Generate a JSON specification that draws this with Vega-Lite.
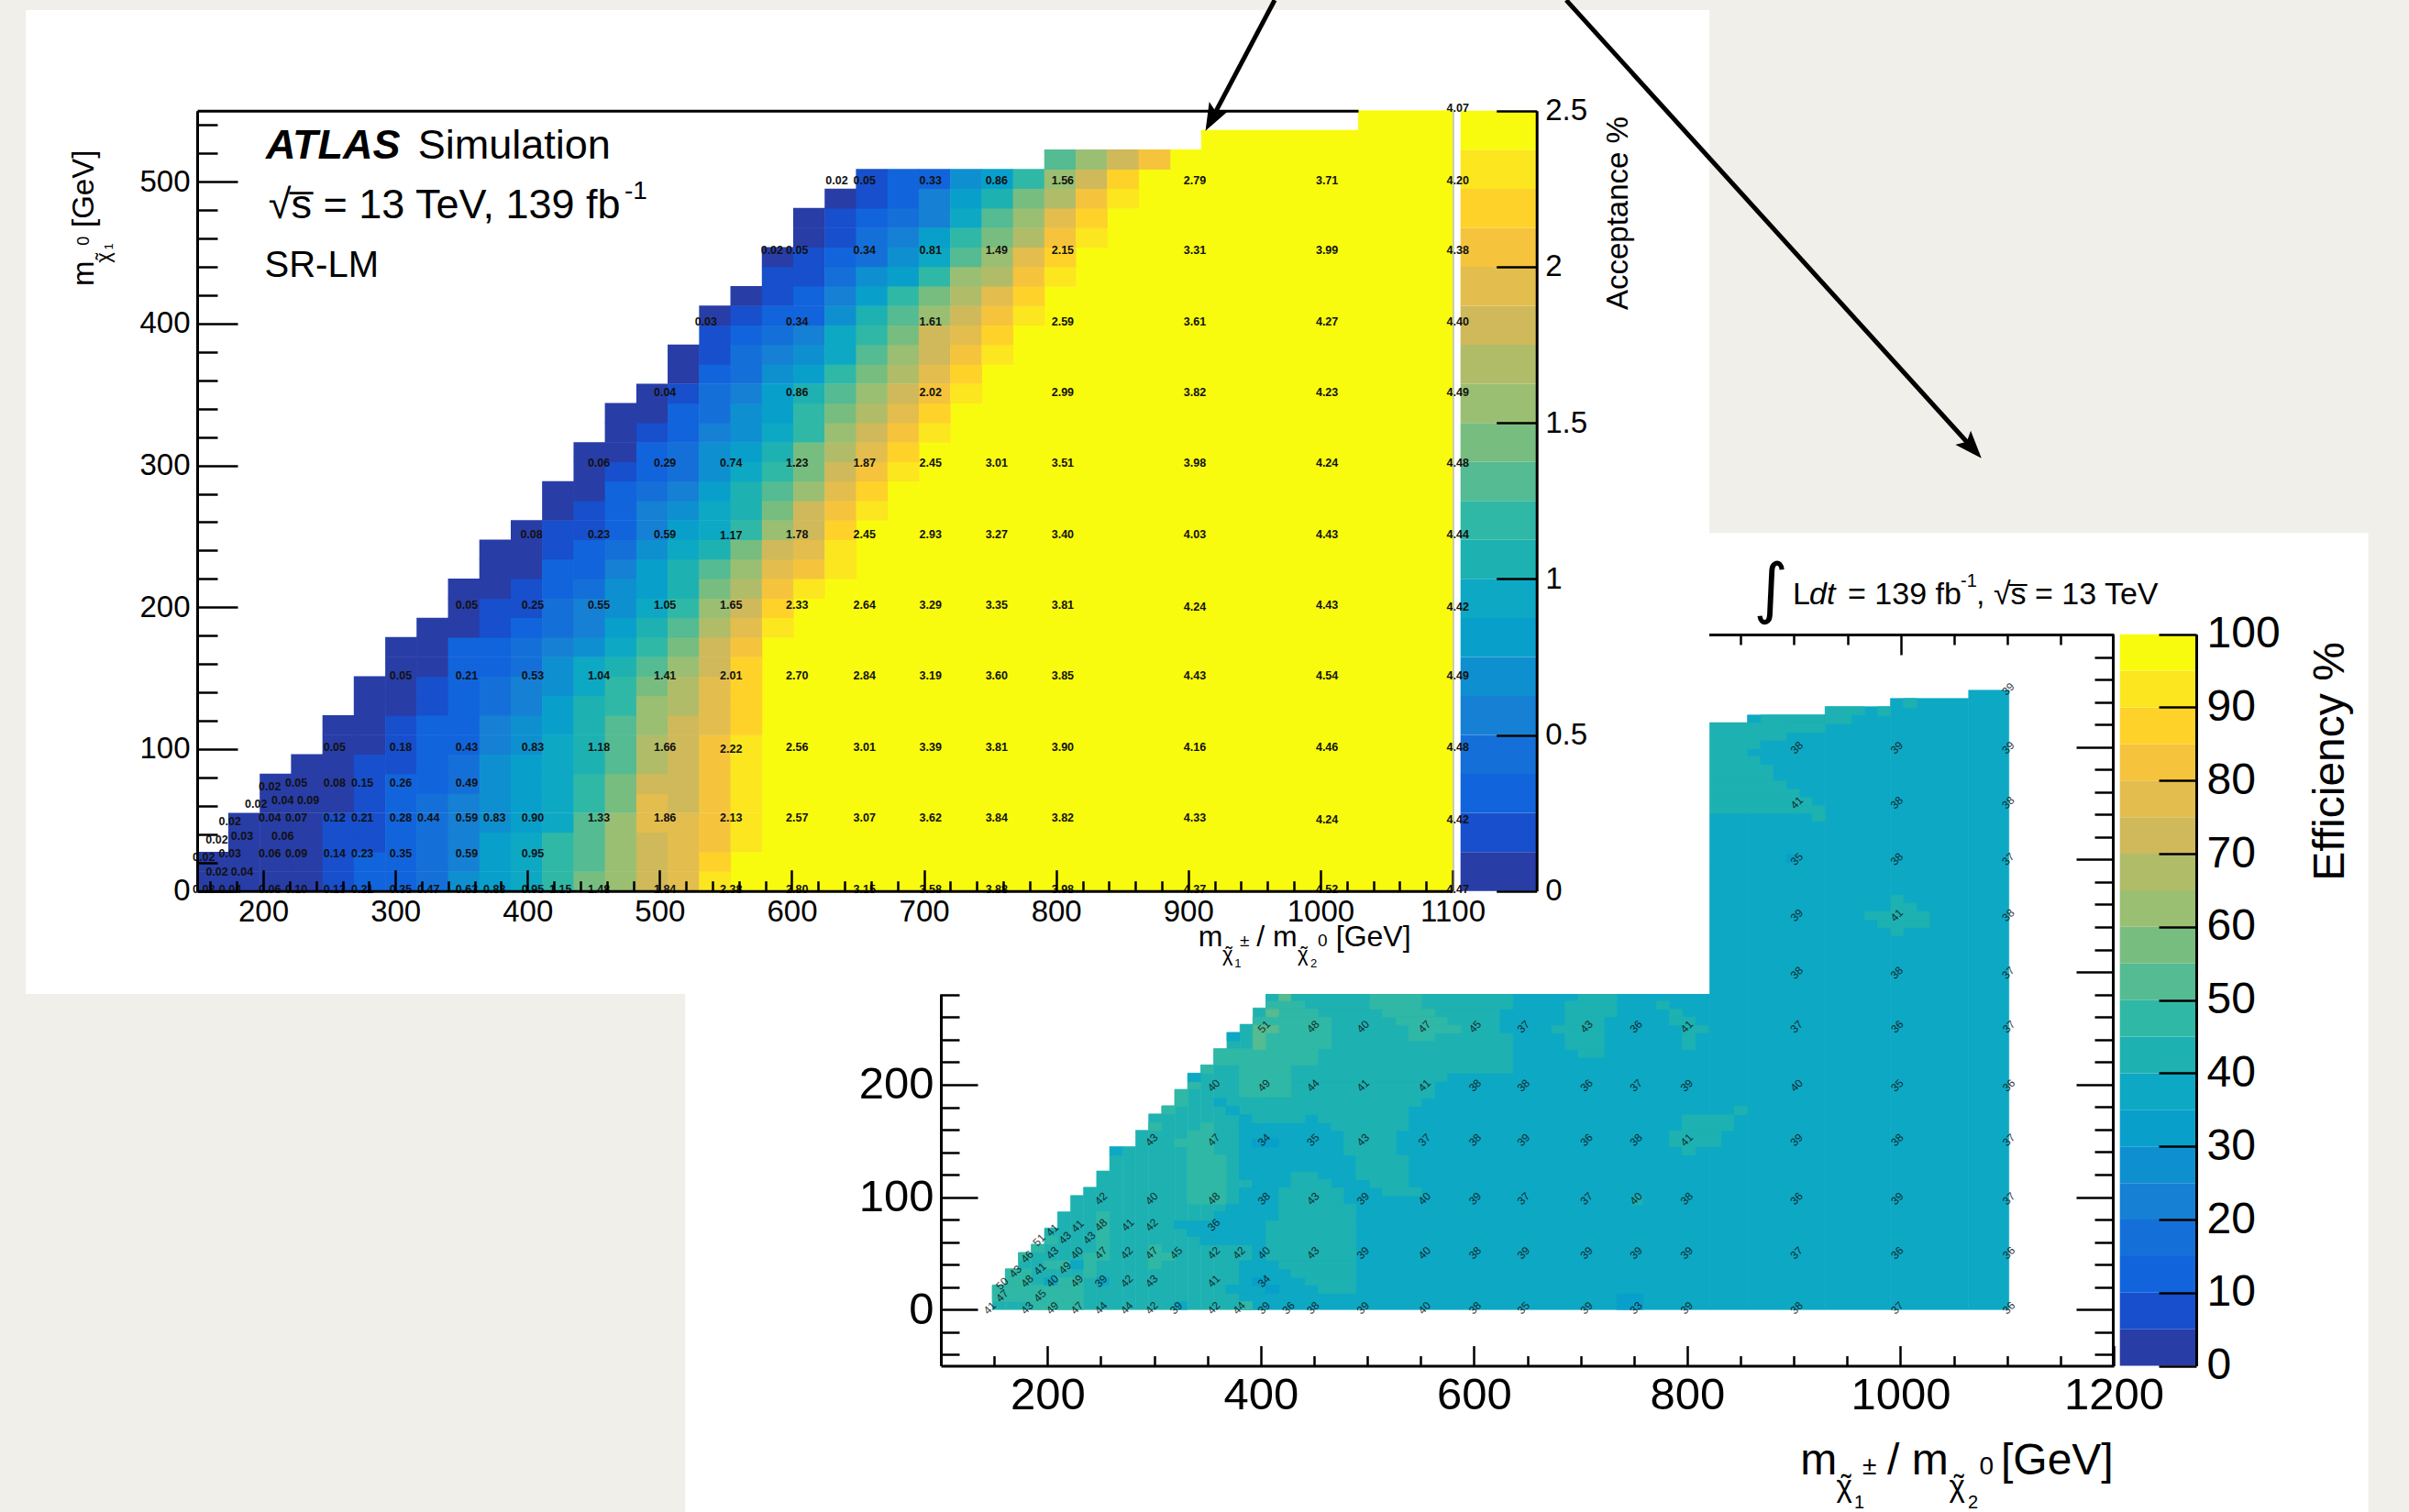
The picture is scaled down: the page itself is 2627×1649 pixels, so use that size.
{"$schema":"https://vega.github.io/schema/vega-lite/v6.json","width":2627,"height":1649,"autosize":{"type":"none"},"padding":0,"background":"#f0efe9",
"config":{"view":{"stroke":null},"text":{"font":"Liberation Sans","color":"#000"},"axis":{"grid":false,"domainColor":"#000","tickColor":"#000","labelColor":"#000","labelFont":"Liberation Sans","labelOverlap":false,"labelFlush":false,"tickWidth":2.5,"domainWidth":3,"title":null}},
"resolve":{"scale":{"x":"independent","y":"independent","color":"independent"},"axis":{"x":"independent","y":"independent"}},
"layer":[
{"encoding":{"x":{"field":"x","type":"quantitative","axis":null,"scale":{"domain":[100,1200],"range":[1026,2305],"nice":false,"zero":false}},"y":{"field":"y","type":"quantitative","axis":null,"scale":{"domain":[-50,600],"range":[1489.6,692],"nice":false,"zero":false}}},
"layer":[
{"data":{"values":[{"x":-139.8,"x2":1438.8,"y":-180,"y2":690.3}]},"mark":{"type":"rect","color":"#fff"},"encoding":{"x2":{"field":"x2"},"y2":{"field":"y2"}}},
{"data":{"values":[
{"x":148.3,"x2":160.5,"y":0,"y2":21.7,"v":42},{"x":160.5,"x2":172.7,"y":0,"y2":36.2,"v":42},{"x":172.7,"x2":184.9,"y":0,"y2":50.7,"v":42},{"x":184.9,"x2":197.2,"y":0,"y2":58,"v":42},{"x":197.2,"x2":209.4,"y":0,"y2":72.5,"v":42},{"x":209.4,"x2":221.6,"y":0,"y2":86.9,"v":42},{"x":221.6,"x2":233.8,"y":0,"y2":101.4,"v":42},{"x":233.8,"x2":246.1,"y":0,"y2":108.7,"v":42},{"x":246.1,"x2":258.3,"y":0,"y2":123.2,"v":42},{"x":258.3,"x2":270.5,"y":0,"y2":137.7,"v":42},{"x":270.5,"x2":282.7,"y":0,"y2":144.9,"v":42},{"x":282.7,"x2":294.9,"y":0,"y2":159.4,"v":42},{"x":294.9,"x2":307.2,"y":0,"y2":173.9,"v":42},{"x":307.2,"x2":319.4,"y":0,"y2":181.1,"v":42},{"x":319.4,"x2":331.6,"y":0,"y2":195.6,"v":42},{"x":331.6,"x2":343.8,"y":0,"y2":210.1,"v":42},{"x":343.8,"x2":356,"y":0,"y2":217.4,"v":42},{"x":356,"x2":368.3,"y":0,"y2":231.8,"v":42},{"x":368.3,"x2":380.5,"y":0,"y2":246.3,"v":42},{"x":380.5,"x2":392.7,"y":0,"y2":253.6,"v":42},{"x":392.7,"x2":404.9,"y":0,"y2":268.1,"v":42},
{"x":404.9,"x2":820.8,"y":0,"y2":400,"v":38},{"x":820.8,"x2":856.4,"y":0,"y2":521.5,"v":38},{"x":856.4,"x2":929.4,"y":0,"y2":528.5,"v":38},{"x":929.4,"x2":990.5,"y":0,"y2":535.9,"v":38},{"x":990.5,"x2":1063.9,"y":0,"y2":543.2,"v":38},{"x":1063.9,"x2":1101.7,"y":0,"y2":550.5,"v":38},
{"x":380,"x2":404.9,"y":0,"y2":14.4,"v":38},{"x":367.5,"x2":404.9,"y":14.4,"y2":21.7,"v":38},{"x":380,"x2":404.9,"y":21.7,"y2":43.5,"v":38},{"x":392.2,"x2":404.9,"y":43.5,"y2":57.6,"v":38},{"x":343.2,"x2":404.9,"y":57.6,"y2":65.2,"v":38},{"x":331,"x2":404.9,"y":65.2,"y2":72,"v":38},{"x":318.8,"x2":404.9,"y":72,"y2":78.8,"v":38},{"x":356,"x2":404.9,"y":78.8,"y2":87,"v":38},{"x":367.5,"x2":404.9,"y":87,"y2":93.8,"v":38},{"x":380,"x2":404.9,"y":93.8,"y2":108.2,"v":38},{"x":392.2,"x2":404.9,"y":108.2,"y2":115.5,"v":38},{"x":380,"x2":404.9,"y":115.5,"y2":166,"v":38},{"x":380,"x2":392.2,"y":166,"y2":173.1,"v":38},{"x":367.5,"x2":380,"y":173.1,"y2":180.7,"v":38},{"x":356,"x2":367.5,"y":180.7,"y2":187.8,"v":38},
{"x":453.7,"x2":489.3,"y":14.4,"y2":21.7,"v":42},{"x":441.5,"x2":489.3,"y":21.7,"y2":28.5,"v":42},{"x":428.4,"x2":489.3,"y":28.5,"y2":36.1,"v":42},{"x":416.9,"x2":489.3,"y":36.1,"y2":43.5,"v":42},{"x":404.9,"x2":489.3,"y":43.5,"y2":78.8,"v":42},{"x":416.9,"x2":489.3,"y":78.8,"y2":93.8,"v":42},{"x":416.9,"x2":477.8,"y":93.8,"y2":108.2,"v":42},{"x":428.4,"x2":466.2,"y":108.2,"y2":115.5,"v":42},{"x":428.4,"x2":453.7,"y":115.5,"y2":122.3,"v":42},{"x":514,"x2":550.8,"y":101.1,"y2":108.2,"v":42},{"x":502.4,"x2":538.6,"y":108.2,"y2":115.5,"v":42},{"x":489.3,"x2":538.6,"y":115.5,"y2":137.2,"v":42},{"x":477.8,"x2":527.1,"y":137.2,"y2":159,"v":42},{"x":466.2,"x2":538.6,"y":159,"y2":166,"v":42},{"x":453.7,"x2":538.6,"y":166,"y2":173.1,"v":42},{"x":392.2,"x2":441.5,"y":166,"y2":173.1,"v":42},{"x":392.2,"x2":538.6,"y":173.1,"y2":180.7,"v":42},{"x":380,"x2":550.8,"y":180.7,"y2":187.8,"v":42},{"x":380,"x2":563.3,"y":187.8,"y2":202.5,"v":42},{"x":404.9,"x2":574.8,"y":202.5,"y2":210.1,"v":42},{"x":404.9,"x2":636.6,"y":210.1,"y2":245.4,"v":42},{"x":404.9,"x2":624,"y":245.4,"y2":267.1,"v":42},{"x":404.9,"x2":636.6,"y":267.1,"y2":281,"v":42},
{"x":697.5,"x2":734,"y":274.2,"y2":281,"v":42},{"x":685.3,"x2":734,"y":260.1,"y2":274.2,"v":42},{"x":685.3,"x2":722.1,"y":252.7,"y2":260.1,"v":42},{"x":672.8,"x2":722.1,"y":245.9,"y2":252.7,"v":42},{"x":685.3,"x2":722.1,"y":231,"y2":245.9,"v":42},{"x":697.5,"x2":722.1,"y":224.2,"y2":231,"v":42},{"x":770.9,"x2":783,"y":267.1,"y2":274.2,"v":42},{"x":783,"x2":795.2,"y":260.1,"y2":267.1,"v":42},{"x":783,"x2":807.7,"y":252.7,"y2":260.1,"v":42},{"x":795.2,"x2":819.9,"y":245.9,"y2":252.7,"v":42},{"x":795.2,"x2":807.7,"y":231,"y2":245.9,"v":42},{"x":843.9,"x2":856.4,"y":173.1,"y2":180.7,"v":42},{"x":795.2,"x2":843.9,"y":159,"y2":173.1,"v":42},{"x":783,"x2":831.7,"y":144.6,"y2":159,"v":42},{"x":795.2,"x2":807.7,"y":137.2,"y2":144.6,"v":42},{"x":748.5,"x2":758.4,"y":93,"y2":101,"v":42},
{"x":820.8,"x2":893,"y":506,"y2":521.5,"v":42},{"x":869,"x2":929.4,"y":521.5,"y2":528.5,"v":42},{"x":893,"x2":929.4,"y":513,"y2":521.5,"v":42},{"x":929.4,"x2":966.4,"y":528.5,"y2":535.9,"v":42},{"x":929.4,"x2":954.1,"y":520.4,"y2":528.5,"v":42},{"x":978.5,"x2":990.5,"y":527.4,"y2":535.9,"v":42},{"x":1002.8,"x2":1015.1,"y":534.8,"y2":543.2,"v":42},{"x":820.8,"x2":868.4,"y":498.6,"y2":506,"v":42},{"x":820.8,"x2":856.4,"y":491.6,"y2":498.6,"v":42},{"x":820.8,"x2":868.4,"y":484,"y2":491.6,"v":42},{"x":820.8,"x2":880.4,"y":469.8,"y2":484,"v":42},{"x":820.8,"x2":893,"y":462.5,"y2":469.8,"v":42},{"x":820.8,"x2":905.1,"y":455.1,"y2":462.5,"v":42},{"x":820.8,"x2":917.1,"y":447.8,"y2":455.1,"v":42},{"x":820.8,"x2":929.4,"y":441,"y2":447.8,"v":42},{"x":917.1,"x2":929.4,"y":434,"y2":441,"v":42},{"x":990.8,"x2":1002.8,"y":361.1,"y2":368.2,"v":42},{"x":990.8,"x2":1015.1,"y":353.8,"y2":361.1,"v":42},{"x":966.4,"x2":1027.2,"y":346.4,"y2":353.8,"v":42},{"x":978.5,"x2":1027.2,"y":339.4,"y2":346.4,"v":42},{"x":990.8,"x2":1002.8,"y":332.3,"y2":339.4,"v":42},
{"x":184.9,"x2":233.6,"y":0,"y2":7.1,"v":47},{"x":148.3,"x2":233.6,"y":7.1,"y2":21.7,"v":47},{"x":160.5,"x2":184.9,"y":21.7,"y2":28.5,"v":47},{"x":209.2,"x2":233.6,"y":21.7,"y2":28.5,"v":47},{"x":160.5,"x2":184.9,"y":28.5,"y2":36.1,"v":47},{"x":197,"x2":221.4,"y":36.1,"y2":43.5,"v":47},{"x":233.6,"x2":245.7,"y":28.5,"y2":50.3,"v":47},{"x":245.7,"x2":257.9,"y":43.5,"y2":87,"v":47},{"x":294.4,"x2":306.6,"y":36.1,"y2":57.6,"v":47},{"x":306.6,"x2":318.8,"y":43.5,"y2":50.3,"v":47},{"x":172.7,"x2":184.9,"y":43.5,"y2":50.7,"v":47},{"x":184.9,"x2":197,"y":51,"y2":58,"v":47},{"x":197.2,"x2":209.2,"y":58,"y2":65,"v":47},{"x":331,"x2":367.5,"y":93.8,"y2":137.2,"v":47},{"x":331,"x2":356,"y":137.2,"y2":159,"v":47},{"x":318.8,"x2":331,"y":144.6,"y2":151.6,"v":47},{"x":343.2,"x2":356,"y":159,"y2":166,"v":47},{"x":319.4,"x2":331.6,"y":180.7,"y2":195.6,"v":47},{"x":331.6,"x2":343.2,"y":196.2,"y2":202.5,"v":47},{"x":343.8,"x2":356,"y":210,"y2":217.4,"v":47},{"x":307.2,"x2":319.4,"y":173.9,"y2":181.1,"v":47},{"x":294.9,"x2":307.2,"y":159,"y2":166,"v":47},{"x":380,"x2":428.4,"y":188.9,"y2":217.4,"v":47},{"x":356,"x2":453.7,"y":217.4,"y2":231.8,"v":47},{"x":392.7,"x2":466.2,"y":231.8,"y2":260,"v":47},{"x":416.9,"x2":453.7,"y":260,"y2":267,"v":47},{"x":404.9,"x2":441.5,"y":267,"y2":274.2,"v":47},{"x":502.4,"x2":550.8,"y":267,"y2":281,"v":47},{"x":514,"x2":563.3,"y":260,"y2":267,"v":47},{"x":527.1,"x2":574.8,"y":252.7,"y2":260,"v":47},{"x":538.6,"x2":588,"y":245.9,"y2":252.7,"v":47},{"x":538.6,"x2":563.3,"y":238.9,"y2":245.9,"v":47},{"x":380,"x2":392.2,"y":0,"y2":7.1,"v":47},
{"x":392.7,"x2":404.7,"y":231,"y2":252.7,"v":52},{"x":404.7,"x2":416.9,"y":260,"y2":267,"v":52},{"x":404.7,"x2":416.9,"y":245.9,"y2":252.7,"v":52},{"x":416.9,"x2":428.4,"y":274.2,"y2":281,"v":52},
{"x":368.3,"x2":380.5,"y":238.9,"y2":246.3,"v":38},{"x":331.6,"x2":343.8,"y":202.5,"y2":210.1,"v":38},{"x":258.3,"x2":270.5,"y":137.2,"y2":144.9,"v":38},{"x":318.8,"x2":331,"y":0,"y2":7.1,"v":38},{"x":245.7,"x2":257.9,"y":21.7,"y2":28.5,"v":38},{"x":197,"x2":209.2,"y":21.7,"y2":28.5,"v":38},{"x":221.4,"x2":233.6,"y":36.1,"y2":43.5,"v":38},
{"x":392.2,"x2":416.9,"y":144.6,"y2":151.6,"v":33},{"x":404.7,"x2":416.9,"y":14.4,"y2":21.7,"v":33},{"x":392.2,"x2":404.7,"y":21.7,"y2":28.5,"v":33},{"x":734,"x2":758.4,"y":0,"y2":13.9,"v":33},{"x":893,"x2":900.5,"y":397.3,"y2":404.3,"v":33}
]},"mark":{"type":"rect","strokeWidth":0.6},"encoding":{"x2":{"field":"x2"},"y2":{"field":"y2"},"stroke":{"field":"v","type":"quantitative","legend":null,"scale":{"type":"quantize","nice":false,"zero":false,"domain":[0,100],"range":["#283da6","#174fcc","#1164dc","#1470d8","#1580d4","#0e90d0","#08a0cb","#0da8c4","#1eb1b2","#30b8a6","#54bb92","#78bd80","#9abf72","#b1bc68","#cfb95a","#e3bd4d","#f5c43c","#ffd22a","#fbe61f","#f9fb0e"]}},"color":{"field":"v","type":"quantitative","legend":null,"scale":{"type":"quantize","nice":false,"zero":false,"domain":[0,100],"range":["#283da6","#174fcc","#1164dc","#1470d8","#1580d4","#0e90d0","#08a0cb","#0da8c4","#1eb1b2","#30b8a6","#54bb92","#78bd80","#9abf72","#b1bc68","#cfb95a","#e3bd4d","#f5c43c","#ffd22a","#fbe61f","#f9fb0e"]}}}},
{"data":{"values":[
{"x":146,"y":1.4,"t":"41"},{"x":180.9,"y":1.4,"t":"43"},{"x":204.6,"y":1.4,"t":"49"},{"x":227.6,"y":1.4,"t":"47"},{"x":250.3,"y":1.4,"t":"44"},{"x":274.4,"y":1.4,"t":"44"},{"x":297.7,"y":1.4,"t":"42"},{"x":320.8,"y":1.4,"t":"39"},{"x":356,"y":1.4,"t":"42"},{"x":379.7,"y":1.4,"t":"44"},{"x":403,"y":1.4,"t":"39"},{"x":426.1,"y":1.4,"t":"36"},{"x":449.1,"y":1.4,"t":"38"},{"x":495.9,"y":1.4,"t":"39"},{"x":553.5,"y":1.4,"t":"40"},{"x":601,"y":1.4,"t":"38"},{"x":646.5,"y":1.4,"t":"35"},{"x":705.7,"y":1.4,"t":"39"},{"x":752,"y":1.4,"t":"33"},{"x":799.5,"y":1.4,"t":"39"},{"x":902.5,"y":1.4,"t":"38"},{"x":997,"y":1.4,"t":"37"},{"x":1101.6,"y":1.4,"t":"36"},
{"x":157.5,"y":12.2,"t":"47"},{"x":193,"y":12.2,"t":"45"},
{"x":157.5,"y":23.1,"t":"50"},{"x":180.9,"y":25.3,"t":"48"},{"x":204.6,"y":25.3,"t":"40"},{"x":227.6,"y":25.3,"t":"49"},{"x":250.3,"y":25.3,"t":"39"},{"x":274.4,"y":25.3,"t":"42"},{"x":297.7,"y":25.3,"t":"43"},{"x":356,"y":25.3,"t":"41"},{"x":403,"y":25.3,"t":"34"},
{"x":170,"y":33.9,"t":"43"},{"x":193,"y":36.1,"t":"41"},{"x":216.5,"y":37.2,"t":"49"},
{"x":180.9,"y":47,"t":"46"},{"x":204.6,"y":50.3,"t":"43"},{"x":227.6,"y":50.3,"t":"40"},{"x":250.3,"y":50.3,"t":"47"},{"x":274.4,"y":50.3,"t":"42"},{"x":297.7,"y":50.3,"t":"47"},{"x":320.8,"y":50.3,"t":"45"},{"x":356,"y":50.3,"t":"42"},{"x":379.7,"y":50.3,"t":"42"},{"x":403,"y":50.3,"t":"40"},{"x":449.1,"y":50.3,"t":"43"},{"x":495.9,"y":50.3,"t":"39"},{"x":553.5,"y":50.3,"t":"40"},{"x":601,"y":50.3,"t":"38"},{"x":646.5,"y":50.3,"t":"39"},{"x":705.7,"y":50.3,"t":"39"},{"x":752,"y":50.3,"t":"39"},{"x":799.5,"y":50.3,"t":"39"},{"x":902.5,"y":50.3,"t":"37"},{"x":997,"y":50.3,"t":"36"},{"x":1101.6,"y":50.3,"t":"36"},
{"x":192.1,"y":61.7,"t":"51"},{"x":216.5,"y":63.9,"t":"43"},{"x":239.2,"y":63.9,"t":"43"},
{"x":204.6,"y":70.7,"t":"41"},{"x":228.3,"y":74.2,"t":"41"},{"x":250.3,"y":75.3,"t":"48"},{"x":275.4,"y":75.3,"t":"41"},{"x":297.7,"y":75.3,"t":"42"},{"x":356,"y":75.3,"t":"36"},
{"x":250.3,"y":98.6,"t":"42"},{"x":297.7,"y":98.6,"t":"40"},{"x":356,"y":98.6,"t":"48"},{"x":403,"y":98.6,"t":"38"},{"x":449.1,"y":98.6,"t":"43"},{"x":495.9,"y":98.6,"t":"39"},{"x":553.5,"y":98.6,"t":"40"},{"x":601,"y":98.6,"t":"39"},{"x":646.5,"y":98.6,"t":"37"},{"x":705.7,"y":98.6,"t":"37"},{"x":752,"y":98.6,"t":"40"},{"x":799.5,"y":98.6,"t":"38"},{"x":902.5,"y":98.6,"t":"36"},{"x":997,"y":98.6,"t":"39"},{"x":1101.6,"y":98.6,"t":"37"},
{"x":297.7,"y":150.8,"t":"43"},{"x":356,"y":150.8,"t":"47"},{"x":403,"y":150.8,"t":"34"},{"x":449.1,"y":150.8,"t":"35"},{"x":495.9,"y":150.8,"t":"43"},{"x":553.5,"y":150.8,"t":"37"},{"x":601,"y":150.8,"t":"38"},{"x":646.5,"y":150.8,"t":"39"},{"x":705.7,"y":150.8,"t":"36"},{"x":752,"y":150.8,"t":"38"},{"x":799.5,"y":150.8,"t":"41"},{"x":902.5,"y":150.8,"t":"39"},{"x":997,"y":150.8,"t":"38"},{"x":1101.6,"y":150.8,"t":"37"},
{"x":356,"y":199.2,"t":"40"},{"x":403,"y":199.2,"t":"49"},{"x":449.1,"y":199.2,"t":"44"},{"x":495.9,"y":199.2,"t":"41"},{"x":553.5,"y":199.2,"t":"41"},{"x":601,"y":199.2,"t":"38"},{"x":646.5,"y":199.2,"t":"38"},{"x":705.7,"y":199.2,"t":"36"},{"x":752,"y":199.2,"t":"37"},{"x":799.5,"y":199.2,"t":"39"},{"x":902.5,"y":199.2,"t":"40"},{"x":997,"y":199.2,"t":"35"},{"x":1101.6,"y":199.2,"t":"36"},
{"x":403,"y":251.4,"t":"51"},{"x":449.1,"y":251.4,"t":"48"},{"x":495.9,"y":251.4,"t":"40"},{"x":553.5,"y":251.4,"t":"47"},{"x":601,"y":251.4,"t":"45"},{"x":646.5,"y":251.4,"t":"37"},{"x":705.7,"y":251.4,"t":"43"},{"x":752,"y":251.4,"t":"36"},{"x":799.5,"y":251.4,"t":"41"},{"x":902.5,"y":251.4,"t":"37"},{"x":997,"y":251.4,"t":"36"},{"x":1101.6,"y":251.4,"t":"37"},
{"x":902.8,"y":299.4,"t":"38"},{"x":996.5,"y":299.4,"t":"38"},{"x":1101.1,"y":299.4,"t":"37"},{"x":902.8,"y":350.5,"t":"39"},{"x":996.5,"y":350.5,"t":"41"},{"x":1101.1,"y":350.5,"t":"38"},{"x":902.8,"y":400.3,"t":"35"},{"x":996.5,"y":400.3,"t":"38"},{"x":1101.1,"y":400.3,"t":"37"},{"x":902.8,"y":450.5,"t":"41"},{"x":996.5,"y":450.5,"t":"38"},{"x":1101.1,"y":450.5,"t":"38"},{"x":902.8,"y":499.4,"t":"38"},{"x":996.5,"y":499.4,"t":"39"},{"x":1101.1,"y":499.4,"t":"39"},{"x":1101.1,"y":551.6,"t":"39"}
]},"mark":{"type":"text","fontSize":12,"angle":315,"align":"center","baseline":"middle","color":"#111","opacity":0.85},"encoding":{"text":{"field":"t"}}},
{"data":{"values":[{"x":899,"y":627,"t":"L"},{"x":950.6,"y":627,"t":"= 139 fb"},{"x":1071,"y":627,"t":", √s̅ = 13 TeV"}]},"mark":{"type":"text","fontSize":34,"align":"left","baseline":"alphabetic"},"encoding":{"text":{"field":"t"}}},
{"data":{"values":[{"x":914.5,"y":627,"t":"dt"}]},"mark":{"type":"text","fontSize":34,"fontStyle":"italic","align":"left","baseline":"alphabetic"},"encoding":{"text":{"field":"t"}}},
{"data":{"values":[{"x":1056.4,"y":642.7,"t":"-1"}]},"mark":{"type":"text","fontSize":20,"align":"left","baseline":"alphabetic"},"encoding":{"text":{"field":"t"}}},
{"data":{"values":[{"x":878.4,"y":639.5,"t":"∫"}]},"mark":{"type":"text","font":"DejaVu Sans","fontSize":72,"align":"center","baseline":"middle"},"encoding":{"text":{"field":"t"}}},
{"data":{"values":[{"x":906,"y":-146.5,"t":"m"},{"x":987.6,"y":-146.5,"t":"/ m"},{"x":1094.2,"y":-146.5,"t":"[GeV]"}]},"mark":{"type":"text","fontSize":48,"align":"left","baseline":"alphabetic"},"encoding":{"text":{"field":"t"}}},
{"data":{"values":[{"x":939.9,"y":-166,"t":"χ"},{"x":1045.7,"y":-166,"t":"χ"},{"x":944.3,"y":-166,"t":"˜"},{"x":1050.1,"y":-166,"t":"˜"}]},"mark":{"type":"text","fontSize":33,"align":"left","baseline":"alphabetic"},"encoding":{"text":{"field":"t"}}},
{"data":{"values":[{"x":964.4,"y":-146.5,"t":"±"},{"x":1074,"y":-146.5,"t":"0"}]},"mark":{"type":"text","fontSize":28,"align":"left","baseline":"alphabetic"},"encoding":{"text":{"field":"t"}}},
{"data":{"values":[{"x":956.7,"y":-176.7,"t":"1"},{"x":1063.3,"y":-176.7,"t":"2"}]},"mark":{"type":"text","fontSize":20,"align":"left","baseline":"alphabetic"},"encoding":{"text":{"field":"t"}}},
{"data":{"values":[{"x":1415.8,"y":381,"t":"Efficiency %"}]},"mark":{"type":"text","fontSize":48,"angle":270,"align":"left","baseline":"alphabetic"},"encoding":{"text":{"field":"t"}}}
]},
{"data":{"values":[{"a":0,"b":1,"z0":0,"z1":5,"v":2.5},{"a":0,"b":1,"z0":5,"z1":10,"v":7.5},{"a":0,"b":1,"z0":10,"z1":15,"v":12.5},{"a":0,"b":1,"z0":15,"z1":20,"v":17.5},{"a":0,"b":1,"z0":20,"z1":25,"v":22.5},{"a":0,"b":1,"z0":25,"z1":30,"v":27.5},{"a":0,"b":1,"z0":30,"z1":35,"v":32.5},{"a":0,"b":1,"z0":35,"z1":40,"v":37.5},{"a":0,"b":1,"z0":40,"z1":45,"v":42.5},{"a":0,"b":1,"z0":45,"z1":50,"v":47.5},{"a":0,"b":1,"z0":50,"z1":55,"v":52.5},{"a":0,"b":1,"z0":55,"z1":60,"v":57.5},{"a":0,"b":1,"z0":60,"z1":65,"v":62.5},{"a":0,"b":1,"z0":65,"z1":70,"v":67.5},{"a":0,"b":1,"z0":70,"z1":75,"v":72.5},{"a":0,"b":1,"z0":75,"z1":80,"v":77.5},{"a":0,"b":1,"z0":80,"z1":85,"v":82.5},{"a":0,"b":1,"z0":85,"z1":90,"v":87.5},{"a":0,"b":1,"z0":90,"z1":95,"v":92.5},{"a":0,"b":1,"z0":95,"z1":100,"v":97.5}]},
"mark":{"type":"rect"},"encoding":{"x":{"field":"a","type":"quantitative","axis":null,"scale":{"domain":[0,1],"range":[2311.7,2395],"nice":false,"zero":false}},"x2":{"field":"b"},"y":{"field":"z0","type":"quantitative","scale":{"domain":[0,100],"range":[1489.6,691.7],"nice":false,"zero":false},"axis":{"zindex":1,"orient":"right","offset":-232,"values":[0,10,20,30,40,50,60,70,80,90,100],"format":"d","tickSize":-41,"labelFontSize":48,"labelPadding":52}},"y2":{"field":"z1"},"color":{"field":"v","type":"quantitative","legend":null,"scale":{"type":"quantize","nice":false,"zero":false,"domain":[0,100],"range":["#283da6","#174fcc","#1164dc","#1470d8","#1580d4","#0e90d0","#08a0cb","#0da8c4","#1eb1b2","#30b8a6","#54bb92","#78bd80","#9abf72","#b1bc68","#cfb95a","#e3bd4d","#f5c43c","#ffd22a","#fbe61f","#f9fb0e"]}}}},
{"data":{"values":[{"a":0}]},"mark":{"type":"point","opacity":0},"encoding":{"x":{"field":"a","type":"quantitative","scale":{"domain":[100,1200],"range":[1026,2305],"nice":false,"zero":false},"axis":{"zindex":1,"orient":"bottom","offset":-159.4,"values":[200,400,600,800,1000,1200],"format":"d","tickSize":-22,"labelFontSize":49,"labelPadding":30}}}},
{"data":{"values":[{"a":0}]},"mark":{"type":"point","opacity":0},"encoding":{"x":{"field":"a","type":"quantitative","scale":{"domain":[100,1200],"range":[1026,2305],"nice":false,"zero":false},"axis":{"zindex":1,"orient":"bottom","offset":-159.4,"values":[150,250,300,350,450,500,550,650,700,750,850,900,950,1050,1100,1150],"tickSize":-11,"labels":false,"domain":false}}}},
{"data":{"values":[{"a":0}]},"mark":{"type":"point","opacity":0},"encoding":{"x":{"field":"a","type":"quantitative","scale":{"domain":[820,1200],"range":[1863.5,2305],"nice":false,"zero":false},"axis":{"zindex":1,"orient":"top","offset":-692,"values":[1000],"tickSize":-22,"labels":false}}}},
{"data":{"values":[{"a":0}]},"mark":{"type":"point","opacity":0},"encoding":{"x":{"field":"a","type":"quantitative","scale":{"domain":[820,1200],"range":[1863.5,2305],"nice":false,"zero":false},"axis":{"zindex":1,"orient":"top","offset":-692,"values":[850,900,950,1050,1100,1150],"tickSize":-11,"labels":false,"domain":false}}}},
{"data":{"values":[{"a":0}]},"mark":{"type":"point","opacity":0},"encoding":{"y":{"field":"a","type":"quantitative","scale":{"domain":[-50,280.7],"range":[1489.6,1084],"nice":false,"zero":false},"axis":{"zindex":1,"orient":"left","offset":-1026,"values":[0,100,200],"format":"d","tickSize":-40,"labelFontSize":49,"labelPadding":48}}}},
{"data":{"values":[{"a":0}]},"mark":{"type":"point","opacity":0},"encoding":{"y":{"field":"a","type":"quantitative","scale":{"domain":[-50,280.7],"range":[1489.6,1084],"nice":false,"zero":false},"axis":{"zindex":1,"orient":"left","offset":-1026,"values":[-40,-20,20,40,60,80,120,140,160,180,220,240,260,280],"tickSize":-20,"labels":false,"domain":false}}}},
{"data":{"values":[{"a":0}]},"mark":{"type":"point","opacity":0},"encoding":{"y":{"field":"a","type":"quantitative","scale":{"domain":[-50,600],"range":[1489.6,692],"nice":false,"zero":false},"axis":{"zindex":1,"orient":"right","offset":-323,"values":[0,100,200,300,400,500],"tickSize":-40,"labels":false}}}},
{"data":{"values":[{"a":0}]},"mark":{"type":"point","opacity":0},"encoding":{"y":{"field":"a","type":"quantitative","scale":{"domain":[-50,600],"range":[1489.6,692],"nice":false,"zero":false},"axis":{"zindex":1,"orient":"right","offset":-323,"values":[-40,-20,20,40,60,80,120,140,160,180,220,240,260,280,320,340,360,380,420,440,460,480,520,540,560,580],"tickSize":-20,"labels":false,"domain":false}}}},
{"encoding":{"x":{"field":"x","type":"quantitative","axis":null,"scale":{"domain":[150,1100],"range":[215,1584],"nice":false,"zero":false}},"y":{"field":"y","type":"quantitative","axis":null,"scale":{"domain":[0,550],"range":[971.7,120.8],"nice":false,"zero":false}}},
"layer":[
{"data":{"values":[{"x":20.3,"x2":1294.4,"y":-72.6,"y2":621}]},"mark":{"type":"rect","color":"#fff"},"encoding":{"x2":{"field":"x2"},"y2":{"field":"y2"}}},
{"data":{"values":[{"x":553.75,"x2":577.5,"y":0,"y2":27.5,"v":3},{"x":577.5,"x2":601.25,"y":0,"y2":178.75,"v":3},{"x":601.25,"x2":625,"y":0,"y2":206.25,"v":3},{"x":625,"x2":648.75,"y":0,"y2":220,"v":3},{"x":648.75,"x2":672.5,"y":0,"y2":261.25,"v":3},{"x":672.5,"x2":696.25,"y":0,"y2":288.75,"v":3},{"x":696.25,"x2":720,"y":0,"y2":316.25,"v":3},{"x":720,"x2":743.75,"y":0,"y2":343.75,"v":3},{"x":743.75,"x2":767.5,"y":0,"y2":371.25,"v":3},{"x":767.5,"x2":791.25,"y":0,"y2":398.75,"v":3},{"x":791.25,"x2":815,"y":0,"y2":426.25,"v":3},{"x":815,"x2":838.75,"y":0,"y2":453.75,"v":3},{"x":838.75,"x2":862.5,"y":0,"y2":481.25,"v":3},{"x":862.5,"x2":886.25,"y":0,"y2":508.75,"v":3},{"x":886.25,"x2":910,"y":0,"y2":522.5,"v":3},{"x":910,"x2":1028.75,"y":0,"y2":536.25,"v":3},{"x":1028.75,"x2":1100,"y":0,"y2":550,"v":3}]},"mark":{"type":"rect","color":"#f9fb0e","stroke":"#f9fb0e","strokeWidth":0.8},"encoding":{"x2":{"field":"x2"},"y2":{"field":"y2"}}},
{"data":{"values":[
{"x":161.9,"y":6.9,"v":0.06},{"x":161.9,"y":20.6,"v":0.06},
{"x":185.6,"y":6.9,"v":0.06},{"x":185.6,"y":20.6,"v":0.06},{"x":185.6,"y":34.4,"v":0.06},{"x":185.6,"y":48.1,"v":0.06},
{"x":209.4,"y":6.9,"v":0.06},{"x":209.4,"y":20.6,"v":0.06},{"x":209.4,"y":34.4,"v":0.06},{"x":209.4,"y":48.1,"v":0.06},{"x":209.4,"y":61.9,"v":0.06},{"x":209.4,"y":75.6,"v":0.06},
{"x":233.1,"y":6.9,"v":0.06},{"x":233.1,"y":20.6,"v":0.06},{"x":233.1,"y":34.4,"v":0.06},{"x":233.1,"y":48.1,"v":0.06},{"x":233.1,"y":61.9,"v":0.06},{"x":233.1,"y":75.6,"v":0.06},{"x":233.1,"y":89.4,"v":0.06},
{"x":256.9,"y":6.9,"v":0.19},{"x":256.9,"y":20.6,"v":0.19},{"x":256.9,"y":34.4,"v":0.19},{"x":256.9,"y":48.1,"v":0.19},{"x":256.9,"y":61.9,"v":0.06},{"x":256.9,"y":75.6,"v":0.06},{"x":256.9,"y":89.4,"v":0.06},{"x":256.9,"y":103.1,"v":0.06},{"x":256.9,"y":116.9,"v":0.06},
{"x":280.6,"y":6.9,"v":0.31},{"x":280.6,"y":20.6,"v":0.31},{"x":280.6,"y":34.4,"v":0.19},{"x":280.6,"y":48.1,"v":0.19},{"x":280.6,"y":61.9,"v":0.19},{"x":280.6,"y":75.6,"v":0.19},{"x":280.6,"y":89.4,"v":0.19},{"x":280.6,"y":103.1,"v":0.06},{"x":280.6,"y":116.9,"v":0.06},{"x":280.6,"y":130.6,"v":0.06},{"x":280.6,"y":144.4,"v":0.06},
{"x":304.4,"y":6.9,"v":0.31},{"x":304.4,"y":20.6,"v":0.31},{"x":304.4,"y":34.4,"v":0.31},{"x":304.4,"y":48.1,"v":0.31},{"x":304.4,"y":61.9,"v":0.31},{"x":304.4,"y":75.6,"v":0.31},{"x":304.4,"y":89.4,"v":0.19},{"x":304.4,"y":103.1,"v":0.19},{"x":304.4,"y":116.9,"v":0.19},{"x":304.4,"y":130.6,"v":0.06},{"x":304.4,"y":144.4,"v":0.06},{"x":304.4,"y":158.1,"v":0.06},{"x":304.4,"y":171.9,"v":0.06},
{"x":328.1,"y":6.9,"v":0.44},{"x":328.1,"y":20.6,"v":0.44},{"x":328.1,"y":34.4,"v":0.44},{"x":328.1,"y":48.1,"v":0.44},{"x":328.1,"y":61.9,"v":0.44},{"x":328.1,"y":75.6,"v":0.31},{"x":328.1,"y":89.4,"v":0.31},{"x":328.1,"y":103.1,"v":0.31},{"x":328.1,"y":116.9,"v":0.31},{"x":328.1,"y":130.6,"v":0.19},{"x":328.1,"y":144.4,"v":0.19},{"x":328.1,"y":158.1,"v":0.06},{"x":328.1,"y":171.9,"v":0.06},{"x":328.1,"y":185.6,"v":0.06},
{"x":351.9,"y":6.9,"v":0.69},{"x":351.9,"y":20.6,"v":0.56},{"x":351.9,"y":34.4,"v":0.56},{"x":351.9,"y":48.1,"v":0.56},{"x":351.9,"y":61.9,"v":0.56},{"x":351.9,"y":75.6,"v":0.44},{"x":351.9,"y":89.4,"v":0.44},{"x":351.9,"y":103.1,"v":0.31},{"x":351.9,"y":116.9,"v":0.31},{"x":351.9,"y":130.6,"v":0.31},{"x":351.9,"y":144.4,"v":0.31},{"x":351.9,"y":158.1,"v":0.31},{"x":351.9,"y":171.9,"v":0.31},{"x":351.9,"y":185.6,"v":0.06},{"x":351.9,"y":199.4,"v":0.06},{"x":351.9,"y":213.1,"v":0.06},
{"x":375.6,"y":6.9,"v":0.81},{"x":375.6,"y":20.6,"v":0.81},{"x":375.6,"y":34.4,"v":0.81},{"x":375.6,"y":48.1,"v":0.69},{"x":375.6,"y":61.9,"v":0.69},{"x":375.6,"y":75.6,"v":0.69},{"x":375.6,"y":89.4,"v":0.69},{"x":375.6,"y":103.1,"v":0.56},{"x":375.6,"y":116.9,"v":0.56},{"x":375.6,"y":130.6,"v":0.44},{"x":375.6,"y":144.4,"v":0.44},{"x":375.6,"y":158.1,"v":0.31},{"x":375.6,"y":171.9,"v":0.31},{"x":375.6,"y":185.6,"v":0.19},{"x":375.6,"y":199.4,"v":0.19},{"x":375.6,"y":213.1,"v":0.06},{"x":375.6,"y":226.9,"v":0.06},{"x":375.6,"y":240.6,"v":0.06},
{"x":399.4,"y":6.9,"v":0.94},{"x":399.4,"y":20.6,"v":0.94},{"x":399.4,"y":34.4,"v":0.94},{"x":399.4,"y":48.1,"v":0.81},{"x":399.4,"y":61.9,"v":0.81},{"x":399.4,"y":75.6,"v":0.81},{"x":399.4,"y":89.4,"v":0.81},{"x":399.4,"y":103.1,"v":0.69},{"x":399.4,"y":116.9,"v":0.69},{"x":399.4,"y":130.6,"v":0.56},{"x":399.4,"y":144.4,"v":0.56},{"x":399.4,"y":158.1,"v":0.44},{"x":399.4,"y":171.9,"v":0.44},{"x":399.4,"y":185.6,"v":0.31},{"x":399.4,"y":199.4,"v":0.19},{"x":399.4,"y":213.1,"v":0.19},{"x":399.4,"y":226.9,"v":0.06},{"x":399.4,"y":240.6,"v":0.06},{"x":399.4,"y":254.4,"v":0.06},
{"x":423.1,"y":6.9,"v":1.19},{"x":423.1,"y":20.6,"v":1.19},{"x":423.1,"y":34.4,"v":1.19},{"x":423.1,"y":48.1,"v":0.94},{"x":423.1,"y":61.9,"v":0.94},{"x":423.1,"y":75.6,"v":0.94},{"x":423.1,"y":89.4,"v":0.94},{"x":423.1,"y":103.1,"v":0.94},{"x":423.1,"y":116.9,"v":0.81},{"x":423.1,"y":130.6,"v":0.81},{"x":423.1,"y":144.4,"v":0.69},{"x":423.1,"y":158.1,"v":0.69},{"x":423.1,"y":171.9,"v":0.56},{"x":423.1,"y":185.6,"v":0.44},{"x":423.1,"y":199.4,"v":0.44},{"x":423.1,"y":213.1,"v":0.31},{"x":423.1,"y":226.9,"v":0.31},{"x":423.1,"y":240.6,"v":0.19},{"x":423.1,"y":254.4,"v":0.19},{"x":423.1,"y":268.1,"v":0.06},{"x":423.1,"y":281.9,"v":0.06},
{"x":446.9,"y":6.9,"v":1.44},{"x":446.9,"y":20.6,"v":1.31},{"x":446.9,"y":34.4,"v":1.31},{"x":446.9,"y":48.1,"v":1.31},{"x":446.9,"y":61.9,"v":1.19},{"x":446.9,"y":75.6,"v":1.19},{"x":446.9,"y":89.4,"v":1.06},{"x":446.9,"y":103.1,"v":1.06},{"x":446.9,"y":116.9,"v":1.06},{"x":446.9,"y":130.6,"v":1.06},{"x":446.9,"y":144.4,"v":0.94},{"x":446.9,"y":158.1,"v":0.94},{"x":446.9,"y":171.9,"v":0.69},{"x":446.9,"y":185.6,"v":0.56},{"x":446.9,"y":199.4,"v":0.56},{"x":446.9,"y":213.1,"v":0.44},{"x":446.9,"y":226.9,"v":0.31},{"x":446.9,"y":240.6,"v":0.31},{"x":446.9,"y":254.4,"v":0.19},{"x":446.9,"y":268.1,"v":0.19},{"x":446.9,"y":281.9,"v":0.06},{"x":446.9,"y":295.6,"v":0.06},{"x":446.9,"y":309.4,"v":0.06},
{"x":470.6,"y":6.9,"v":1.56},{"x":470.6,"y":20.6,"v":1.56},{"x":470.6,"y":34.4,"v":1.56},{"x":470.6,"y":48.1,"v":1.56},{"x":470.6,"y":61.9,"v":1.44},{"x":470.6,"y":75.6,"v":1.44},{"x":470.6,"y":89.4,"v":1.31},{"x":470.6,"y":103.1,"v":1.31},{"x":470.6,"y":116.9,"v":1.31},{"x":470.6,"y":130.6,"v":1.19},{"x":470.6,"y":144.4,"v":1.19},{"x":470.6,"y":158.1,"v":1.06},{"x":470.6,"y":171.9,"v":0.94},{"x":470.6,"y":185.6,"v":0.81},{"x":470.6,"y":199.4,"v":0.69},{"x":470.6,"y":213.1,"v":0.69},{"x":470.6,"y":226.9,"v":0.56},{"x":470.6,"y":240.6,"v":0.44},{"x":470.6,"y":254.4,"v":0.31},{"x":470.6,"y":268.1,"v":0.31},{"x":470.6,"y":281.9,"v":0.31},{"x":470.6,"y":295.6,"v":0.19},{"x":470.6,"y":309.4,"v":0.06},{"x":470.6,"y":323.1,"v":0.06},{"x":470.6,"y":336.9,"v":0.06},
{"x":494.4,"y":6.9,"v":1.81},{"x":494.4,"y":20.6,"v":1.81},{"x":494.4,"y":34.4,"v":1.81},{"x":494.4,"y":48.1,"v":1.94},{"x":494.4,"y":61.9,"v":1.94},{"x":494.4,"y":75.6,"v":1.81},{"x":494.4,"y":89.4,"v":1.69},{"x":494.4,"y":103.1,"v":1.69},{"x":494.4,"y":116.9,"v":1.56},{"x":494.4,"y":130.6,"v":1.56},{"x":494.4,"y":144.4,"v":1.44},{"x":494.4,"y":158.1,"v":1.31},{"x":494.4,"y":171.9,"v":1.19},{"x":494.4,"y":185.6,"v":1.06},{"x":494.4,"y":199.4,"v":0.94},{"x":494.4,"y":213.1,"v":0.81},{"x":494.4,"y":226.9,"v":0.81},{"x":494.4,"y":240.6,"v":0.69},{"x":494.4,"y":254.4,"v":0.56},{"x":494.4,"y":268.1,"v":0.56},{"x":494.4,"y":281.9,"v":0.44},{"x":494.4,"y":295.6,"v":0.31},{"x":494.4,"y":309.4,"v":0.31},{"x":494.4,"y":323.1,"v":0.19},{"x":494.4,"y":336.9,"v":0.06},{"x":494.4,"y":350.6,"v":0.06},
{"x":518.1,"y":6.9,"v":1.94},{"x":518.1,"y":20.6,"v":1.94},{"x":518.1,"y":34.4,"v":1.94},{"x":518.1,"y":48.1,"v":1.94},{"x":518.1,"y":61.9,"v":1.81},{"x":518.1,"y":75.6,"v":1.81},{"x":518.1,"y":89.4,"v":1.81},{"x":518.1,"y":103.1,"v":1.81},{"x":518.1,"y":116.9,"v":1.81},{"x":518.1,"y":130.6,"v":1.69},{"x":518.1,"y":144.4,"v":1.69},{"x":518.1,"y":158.1,"v":1.56},{"x":518.1,"y":171.9,"v":1.44},{"x":518.1,"y":185.6,"v":1.31},{"x":518.1,"y":199.4,"v":1.19},{"x":518.1,"y":213.1,"v":1.06},{"x":518.1,"y":226.9,"v":1.06},{"x":518.1,"y":240.6,"v":0.94},{"x":518.1,"y":254.4,"v":0.81},{"x":518.1,"y":268.1,"v":0.69},{"x":518.1,"y":281.9,"v":0.56},{"x":518.1,"y":295.6,"v":0.44},{"x":518.1,"y":309.4,"v":0.44},{"x":518.1,"y":323.1,"v":0.31},{"x":518.1,"y":336.9,"v":0.31},{"x":518.1,"y":350.6,"v":0.19},{"x":518.1,"y":364.4,"v":0.06},{"x":518.1,"y":378.1,"v":0.06},
{"x":541.9,"y":6.9,"v":2.31},{"x":541.9,"y":20.6,"v":2.19},{"x":541.9,"y":34.4,"v":2.06},{"x":541.9,"y":48.1,"v":2.06},{"x":541.9,"y":61.9,"v":2.06},{"x":541.9,"y":75.6,"v":2.06},{"x":541.9,"y":89.4,"v":2.06},{"x":541.9,"y":103.1,"v":2.06},{"x":541.9,"y":116.9,"v":1.94},{"x":541.9,"y":130.6,"v":1.94},{"x":541.9,"y":144.4,"v":1.94},{"x":541.9,"y":158.1,"v":1.81},{"x":541.9,"y":171.9,"v":1.81},{"x":541.9,"y":185.6,"v":1.69},{"x":541.9,"y":199.4,"v":1.56},{"x":541.9,"y":213.1,"v":1.44},{"x":541.9,"y":226.9,"v":1.31},{"x":541.9,"y":240.6,"v":1.06},{"x":541.9,"y":254.4,"v":0.94},{"x":541.9,"y":268.1,"v":0.94},{"x":541.9,"y":281.9,"v":0.81},{"x":541.9,"y":295.6,"v":0.69},{"x":541.9,"y":309.4,"v":0.69},{"x":541.9,"y":323.1,"v":0.56},{"x":541.9,"y":336.9,"v":0.44},{"x":541.9,"y":350.6,"v":0.44},{"x":541.9,"y":364.4,"v":0.31},{"x":541.9,"y":378.1,"v":0.19},{"x":541.9,"y":391.9,"v":0.19},{"x":541.9,"y":405.6,"v":0.06},
{"x":565.6,"y":34.4,"v":2.31},{"x":565.6,"y":48.1,"v":2.31},{"x":565.6,"y":61.9,"v":2.31},{"x":565.6,"y":75.6,"v":2.31},{"x":565.6,"y":89.4,"v":2.31},{"x":565.6,"y":103.1,"v":2.31},{"x":565.6,"y":116.9,"v":2.19},{"x":565.6,"y":130.6,"v":2.19},{"x":565.6,"y":144.4,"v":2.19},{"x":565.6,"y":158.1,"v":2.19},{"x":565.6,"y":171.9,"v":2.06},{"x":565.6,"y":185.6,"v":1.94},{"x":565.6,"y":199.4,"v":1.81},{"x":565.6,"y":213.1,"v":1.69},{"x":565.6,"y":226.9,"v":1.56},{"x":565.6,"y":240.6,"v":1.44},{"x":565.6,"y":254.4,"v":1.19},{"x":565.6,"y":268.1,"v":1.06},{"x":565.6,"y":281.9,"v":1.06},{"x":565.6,"y":295.6,"v":0.94},{"x":565.6,"y":309.4,"v":0.81},{"x":565.6,"y":323.1,"v":0.69},{"x":565.6,"y":336.9,"v":0.69},{"x":565.6,"y":350.6,"v":0.56},{"x":565.6,"y":364.4,"v":0.44},{"x":565.6,"y":378.1,"v":0.44},{"x":565.6,"y":391.9,"v":0.31},{"x":565.6,"y":405.6,"v":0.19},{"x":565.6,"y":419.4,"v":0.06},
{"x":589.4,"y":185.6,"v":2.31},{"x":589.4,"y":199.4,"v":2.19},{"x":589.4,"y":213.1,"v":2.06},{"x":589.4,"y":226.9,"v":1.94},{"x":589.4,"y":240.6,"v":1.81},{"x":589.4,"y":254.4,"v":1.56},{"x":589.4,"y":268.1,"v":1.44},{"x":589.4,"y":281.9,"v":1.31},{"x":589.4,"y":295.6,"v":1.19},{"x":589.4,"y":309.4,"v":1.06},{"x":589.4,"y":323.1,"v":0.94},{"x":589.4,"y":336.9,"v":0.81},{"x":589.4,"y":350.6,"v":0.81},{"x":589.4,"y":364.4,"v":0.69},{"x":589.4,"y":378.1,"v":0.56},{"x":589.4,"y":391.9,"v":0.44},{"x":589.4,"y":405.6,"v":0.31},{"x":589.4,"y":419.4,"v":0.19},{"x":589.4,"y":433.1,"v":0.19},{"x":589.4,"y":446.9,"v":0.06},
{"x":613.1,"y":213.1,"v":2.31},{"x":613.1,"y":226.9,"v":2.06},{"x":613.1,"y":240.6,"v":1.94},{"x":613.1,"y":254.4,"v":1.81},{"x":613.1,"y":268.1,"v":1.81},{"x":613.1,"y":281.9,"v":1.56},{"x":613.1,"y":295.6,"v":1.44},{"x":613.1,"y":309.4,"v":1.44},{"x":613.1,"y":323.1,"v":1.19},{"x":613.1,"y":336.9,"v":1.19},{"x":613.1,"y":350.6,"v":1.06},{"x":613.1,"y":364.4,"v":0.81},{"x":613.1,"y":378.1,"v":0.69},{"x":613.1,"y":391.9,"v":0.56},{"x":613.1,"y":405.6,"v":0.31},{"x":613.1,"y":419.4,"v":0.31},{"x":613.1,"y":433.1,"v":0.19},{"x":613.1,"y":446.9,"v":0.19},{"x":613.1,"y":460.6,"v":0.06},{"x":613.1,"y":474.4,"v":0.06},
{"x":636.9,"y":226.9,"v":2.31},{"x":636.9,"y":240.6,"v":2.31},{"x":636.9,"y":254.4,"v":2.19},{"x":636.9,"y":268.1,"v":2.06},{"x":636.9,"y":281.9,"v":1.94},{"x":636.9,"y":295.6,"v":1.81},{"x":636.9,"y":309.4,"v":1.69},{"x":636.9,"y":323.1,"v":1.56},{"x":636.9,"y":336.9,"v":1.44},{"x":636.9,"y":350.6,"v":1.31},{"x":636.9,"y":364.4,"v":1.19},{"x":636.9,"y":378.1,"v":0.94},{"x":636.9,"y":391.9,"v":0.94},{"x":636.9,"y":405.6,"v":0.69},{"x":636.9,"y":419.4,"v":0.56},{"x":636.9,"y":433.1,"v":0.44},{"x":636.9,"y":446.9,"v":0.31},{"x":636.9,"y":460.6,"v":0.19},{"x":636.9,"y":474.4,"v":0.19},{"x":636.9,"y":488.1,"v":0.06},
{"x":660.6,"y":268.1,"v":2.31},{"x":660.6,"y":281.9,"v":2.19},{"x":660.6,"y":295.6,"v":2.06},{"x":660.6,"y":309.4,"v":1.94},{"x":660.6,"y":323.1,"v":1.81},{"x":660.6,"y":336.9,"v":1.69},{"x":660.6,"y":350.6,"v":1.56},{"x":660.6,"y":364.4,"v":1.44},{"x":660.6,"y":378.1,"v":1.31},{"x":660.6,"y":391.9,"v":1.19},{"x":660.6,"y":405.6,"v":1.06},{"x":660.6,"y":419.4,"v":0.81},{"x":660.6,"y":433.1,"v":0.69},{"x":660.6,"y":446.9,"v":0.44},{"x":660.6,"y":460.6,"v":0.44},{"x":660.6,"y":474.4,"v":0.31},{"x":660.6,"y":488.1,"v":0.19},{"x":660.6,"y":501.9,"v":0.19},
{"x":684.4,"y":295.6,"v":2.31},{"x":684.4,"y":309.4,"v":2.19},{"x":684.4,"y":323.1,"v":2.06},{"x":684.4,"y":336.9,"v":1.94},{"x":684.4,"y":350.6,"v":1.81},{"x":684.4,"y":364.4,"v":1.69},{"x":684.4,"y":378.1,"v":1.56},{"x":684.4,"y":391.9,"v":1.44},{"x":684.4,"y":405.6,"v":1.31},{"x":684.4,"y":419.4,"v":1.19},{"x":684.4,"y":433.1,"v":0.81},{"x":684.4,"y":446.9,"v":0.69},{"x":684.4,"y":460.6,"v":0.56},{"x":684.4,"y":474.4,"v":0.44},{"x":684.4,"y":488.1,"v":0.31},{"x":684.4,"y":501.9,"v":0.31},
{"x":708.1,"y":323.1,"v":2.31},{"x":708.1,"y":336.9,"v":2.19},{"x":708.1,"y":350.6,"v":2.06},{"x":708.1,"y":364.4,"v":1.94},{"x":708.1,"y":378.1,"v":1.81},{"x":708.1,"y":391.9,"v":1.81},{"x":708.1,"y":405.6,"v":1.56},{"x":708.1,"y":419.4,"v":1.44},{"x":708.1,"y":433.1,"v":1.19},{"x":708.1,"y":446.9,"v":0.94},{"x":708.1,"y":460.6,"v":0.81},{"x":708.1,"y":474.4,"v":0.56},{"x":708.1,"y":488.1,"v":0.56},{"x":708.1,"y":501.9,"v":0.31},
{"x":731.9,"y":350.6,"v":2.31},{"x":731.9,"y":364.4,"v":2.19},{"x":731.9,"y":378.1,"v":2.06},{"x":731.9,"y":391.9,"v":1.94},{"x":731.9,"y":405.6,"v":1.81},{"x":731.9,"y":419.4,"v":1.69},{"x":731.9,"y":433.1,"v":1.56},{"x":731.9,"y":446.9,"v":1.31},{"x":731.9,"y":460.6,"v":1.19},{"x":731.9,"y":474.4,"v":0.94},{"x":731.9,"y":488.1,"v":0.81},{"x":731.9,"y":501.9,"v":0.69},
{"x":755.6,"y":378.1,"v":2.31},{"x":755.6,"y":391.9,"v":2.19},{"x":755.6,"y":405.6,"v":2.06},{"x":755.6,"y":419.4,"v":1.94},{"x":755.6,"y":433.1,"v":1.69},{"x":755.6,"y":446.9,"v":1.56},{"x":755.6,"y":460.6,"v":1.44},{"x":755.6,"y":474.4,"v":1.31},{"x":755.6,"y":488.1,"v":1.06},{"x":755.6,"y":501.9,"v":0.81},
{"x":779.4,"y":405.6,"v":2.31},{"x":779.4,"y":419.4,"v":2.19},{"x":779.4,"y":433.1,"v":2.06},{"x":779.4,"y":446.9,"v":1.94},{"x":779.4,"y":460.6,"v":1.69},{"x":779.4,"y":474.4,"v":1.56},{"x":779.4,"y":488.1,"v":1.44},{"x":779.4,"y":501.9,"v":1.19},
{"x":803.1,"y":433.1,"v":2.31},{"x":803.1,"y":446.9,"v":2.19},{"x":803.1,"y":460.6,"v":2.06},{"x":803.1,"y":474.4,"v":1.94},{"x":803.1,"y":488.1,"v":1.69},{"x":803.1,"y":501.9,"v":1.56},{"x":803.1,"y":515.6,"v":1.31},
{"x":826.9,"y":460.6,"v":2.31},{"x":826.9,"y":474.4,"v":2.19},{"x":826.9,"y":488.1,"v":2.06},{"x":826.9,"y":501.9,"v":1.81},{"x":826.9,"y":515.6,"v":1.56},
{"x":850.6,"y":488.1,"v":2.31},{"x":850.6,"y":501.9,"v":2.19},{"x":850.6,"y":515.6,"v":1.81},
{"x":874.4,"y":515.6,"v":2.06}
]},"mark":{"type":"rect","width":34.8,"height":21.8},"encoding":{"color":{"field":"v","type":"quantitative","legend":null,"scale":{"type":"quantize","nice":false,"zero":false,"domain":[0,2.5],"range":["#283da6","#174fcc","#1164dc","#1470d8","#1580d4","#0e90d0","#08a0cb","#0da8c4","#1eb1b2","#30b8a6","#54bb92","#78bd80","#9abf72","#b1bc68","#cfb95a","#e3bd4d","#f5c43c","#ffd22a","#fbe61f","#f9fb0e"]}}}}
]},
{"data":{"values":[{"a":0,"b":1,"z0":0,"z1":0.125,"v":0.06},{"a":0,"b":1,"z0":0.125,"z1":0.25,"v":0.19},{"a":0,"b":1,"z0":0.25,"z1":0.375,"v":0.31},{"a":0,"b":1,"z0":0.375,"z1":0.5,"v":0.44},{"a":0,"b":1,"z0":0.5,"z1":0.625,"v":0.56},{"a":0,"b":1,"z0":0.625,"z1":0.75,"v":0.69},{"a":0,"b":1,"z0":0.75,"z1":0.875,"v":0.81},{"a":0,"b":1,"z0":0.875,"z1":1,"v":0.94},{"a":0,"b":1,"z0":1,"z1":1.125,"v":1.06},{"a":0,"b":1,"z0":1.125,"z1":1.25,"v":1.19},{"a":0,"b":1,"z0":1.25,"z1":1.375,"v":1.31},{"a":0,"b":1,"z0":1.375,"z1":1.5,"v":1.44},{"a":0,"b":1,"z0":1.5,"z1":1.625,"v":1.56},{"a":0,"b":1,"z0":1.625,"z1":1.75,"v":1.69},{"a":0,"b":1,"z0":1.75,"z1":1.875,"v":1.81},{"a":0,"b":1,"z0":1.875,"z1":2,"v":1.94},{"a":0,"b":1,"z0":2,"z1":2.125,"v":2.06},{"a":0,"b":1,"z0":2.125,"z1":2.25,"v":2.19},{"a":0,"b":1,"z0":2.25,"z1":2.375,"v":2.31},{"a":0,"b":1,"z0":2.375,"z1":2.5,"v":2.44}]},
"mark":{"type":"rect"},"encoding":{"x":{"field":"a","type":"quantitative","axis":null,"scale":{"domain":[0,1],"range":[1592.7,1675.7],"nice":false,"zero":false}},"x2":{"field":"b"},"y":{"field":"z0","type":"quantitative","scale":{"domain":[0,2.5],"range":[971.7,120.8],"nice":false,"zero":false},"axis":{"zindex":1,"orient":"right","offset":-951.3,"values":[0,0.5,1,1.5,2,2.5],"format":"~g","tickSize":-44,"labelFontSize":33,"labelPadding":53}},"y2":{"field":"z1"},"color":{"field":"v","type":"quantitative","legend":null,"scale":{"type":"quantize","nice":false,"zero":false,"domain":[0,2.5],"range":["#283da6","#174fcc","#1164dc","#1470d8","#1580d4","#0e90d0","#08a0cb","#0da8c4","#1eb1b2","#30b8a6","#54bb92","#78bd80","#9abf72","#b1bc68","#cfb95a","#e3bd4d","#f5c43c","#ffd22a","#fbe61f","#f9fb0e"]}}}},
{"encoding":{"x":{"field":"x","type":"quantitative","axis":null,"scale":{"domain":[150,1100],"range":[215,1584],"nice":false,"zero":false}},"y":{"field":"y","type":"quantitative","axis":null,"scale":{"domain":[0,550],"range":[971.7,120.8],"nice":false,"zero":false}}},
"layer":[
{"data":{"values":[
{"x":1104,"y":551.6,"t":"4.07"},
{"x":634,"y":501,"t":"0.02"},{"x":655,"y":501,"t":"0.05"},{"x":705,"y":501,"t":"0.33"},{"x":755,"y":501,"t":"0.86"},{"x":805,"y":501,"t":"1.56"},{"x":905,"y":501,"t":"2.79"},{"x":1005,"y":501,"t":"3.71"},{"x":1104,"y":501,"t":"4.20"},
{"x":585,"y":451.6,"t":"0.02"},{"x":604,"y":451.6,"t":"0.05"},{"x":655,"y":451.6,"t":"0.34"},{"x":705,"y":451.6,"t":"0.81"},{"x":755,"y":451.6,"t":"1.49"},{"x":805,"y":451.6,"t":"2.15"},{"x":905,"y":451.6,"t":"3.31"},{"x":1005,"y":451.6,"t":"3.99"},{"x":1104,"y":451.6,"t":"4.38"},
{"x":535,"y":401.4,"t":"0.03"},{"x":604,"y":401.4,"t":"0.34"},{"x":705,"y":401.4,"t":"1.61"},{"x":805,"y":401.4,"t":"2.59"},{"x":905,"y":401.4,"t":"3.61"},{"x":1005,"y":401.4,"t":"4.27"},{"x":1104,"y":401.4,"t":"4.40"},
{"x":504,"y":351.2,"t":"0.04"},{"x":604,"y":351.2,"t":"0.86"},{"x":705,"y":351.2,"t":"2.02"},{"x":805,"y":351.2,"t":"2.99"},{"x":905,"y":351.2,"t":"3.82"},{"x":1005,"y":351.2,"t":"4.23"},{"x":1104,"y":351.2,"t":"4.49"},
{"x":454,"y":301.5,"t":"0.06"},{"x":504,"y":301.5,"t":"0.29"},{"x":554,"y":301.5,"t":"0.74"},{"x":604,"y":301.5,"t":"1.23"},{"x":655,"y":301.5,"t":"1.87"},{"x":705,"y":301.5,"t":"2.45"},{"x":755,"y":301.5,"t":"3.01"},{"x":805,"y":301.5,"t":"3.51"},{"x":905,"y":301.5,"t":"3.98"},{"x":1005,"y":301.5,"t":"4.24"},{"x":1104,"y":301.5,"t":"4.48"},
{"x":403,"y":251.5,"t":"0.08"},{"x":454,"y":251.5,"t":"0.23"},{"x":504,"y":251.5,"t":"0.59"},{"x":554,"y":250.5,"t":"1.17"},{"x":604,"y":251.5,"t":"1.78"},{"x":655,"y":251.5,"t":"2.45"},{"x":705,"y":251.5,"t":"2.93"},{"x":755,"y":251.5,"t":"3.27"},{"x":805,"y":251.5,"t":"3.40"},{"x":905,"y":251.5,"t":"4.03"},{"x":1005,"y":251.5,"t":"4.43"},{"x":1104,"y":251.5,"t":"4.44"},
{"x":354,"y":201.5,"t":"0.05"},{"x":404,"y":201.5,"t":"0.25"},{"x":454,"y":201.5,"t":"0.55"},{"x":504,"y":201.5,"t":"1.05"},{"x":554,"y":201.5,"t":"1.65"},{"x":604,"y":201.5,"t":"2.33"},{"x":655,"y":201.5,"t":"2.64"},{"x":705,"y":201.5,"t":"3.29"},{"x":755,"y":201.5,"t":"3.35"},{"x":805,"y":201.5,"t":"3.81"},{"x":905,"y":200.5,"t":"4.24"},{"x":1005,"y":201.5,"t":"4.43"},{"x":1104,"y":200.5,"t":"4.42"},
{"x":304,"y":151.5,"t":"0.05"},{"x":354,"y":151.5,"t":"0.21"},{"x":404,"y":151.5,"t":"0.53"},{"x":454,"y":151.5,"t":"1.04"},{"x":504,"y":151.5,"t":"1.41"},{"x":554,"y":151.5,"t":"2.01"},{"x":604,"y":151.5,"t":"2.70"},{"x":655,"y":151.5,"t":"2.84"},{"x":705,"y":151.5,"t":"3.19"},{"x":755,"y":151.5,"t":"3.60"},{"x":805,"y":151.5,"t":"3.85"},{"x":905,"y":151.5,"t":"4.43"},{"x":1005,"y":151.5,"t":"4.54"},{"x":1104,"y":151.5,"t":"4.49"},
{"x":254,"y":101.5,"t":"0.05"},{"x":304,"y":101.5,"t":"0.18"},{"x":354,"y":101.5,"t":"0.43"},{"x":404,"y":101.5,"t":"0.83"},{"x":454,"y":101.5,"t":"1.18"},{"x":504,"y":101.5,"t":"1.66"},{"x":554,"y":100,"t":"2.22"},{"x":604,"y":101.5,"t":"2.56"},{"x":655,"y":101.5,"t":"3.01"},{"x":705,"y":101.5,"t":"3.39"},{"x":755,"y":101.5,"t":"3.81"},{"x":805,"y":101.5,"t":"3.90"},{"x":905,"y":101.5,"t":"4.16"},{"x":1005,"y":101.5,"t":"4.46"},{"x":1104,"y":101.5,"t":"4.48"},
{"x":205,"y":73.7,"t":"0.02"},{"x":225,"y":75.9,"t":"0.05"},{"x":254,"y":75.9,"t":"0.08"},{"x":275,"y":75.9,"t":"0.15"},{"x":304,"y":75.9,"t":"0.26"},{"x":354,"y":75.9,"t":"0.49"},
{"x":194.6,"y":61,"t":"0.02"},{"x":214.7,"y":64,"t":"0.04"},{"x":234,"y":64,"t":"0.09"},
{"x":174.8,"y":49,"t":"0.02"},{"x":205,"y":51.3,"t":"0.04"},{"x":225,"y":51.3,"t":"0.07"},{"x":254,"y":51.3,"t":"0.12"},{"x":275,"y":51.3,"t":"0.21"},{"x":304,"y":51.3,"t":"0.28"},{"x":325,"y":51.3,"t":"0.44"},{"x":354,"y":51.3,"t":"0.59"},{"x":375,"y":51.3,"t":"0.83"},{"x":404,"y":51.3,"t":"0.90"},{"x":454,"y":51.3,"t":"1.33"},{"x":504,"y":51.3,"t":"1.86"},{"x":554,"y":51.3,"t":"2.13"},{"x":604,"y":51.3,"t":"2.57"},{"x":655,"y":51.3,"t":"3.07"},{"x":705,"y":51.3,"t":"3.62"},{"x":755,"y":51.3,"t":"3.84"},{"x":805,"y":51.3,"t":"3.82"},{"x":905,"y":51.3,"t":"4.33"},{"x":1005,"y":50.5,"t":"4.24"},{"x":1104,"y":50.5,"t":"4.42"},
{"x":164.9,"y":36.2,"t":"0.02"},{"x":184,"y":38.8,"t":"0.03"},{"x":214.7,"y":38.8,"t":"0.06"},
{"x":155,"y":23.7,"t":"0.02"},{"x":174.8,"y":26.3,"t":"0.03"},{"x":205,"y":26.3,"t":"0.06"},{"x":225,"y":26.3,"t":"0.09"},{"x":254,"y":26.3,"t":"0.14"},{"x":275,"y":26.3,"t":"0.23"},{"x":304,"y":26.3,"t":"0.35"},{"x":354,"y":26.3,"t":"0.59"},{"x":404,"y":26.3,"t":"0.95"},
{"x":165,"y":13.6,"t":"0.02"},{"x":184,"y":13.6,"t":"0.04"},
{"x":155,"y":1.1,"t":"0.02"},{"x":175,"y":1.1,"t":"0.04"},{"x":205,"y":1.1,"t":"0.06"},{"x":225,"y":1.1,"t":"0.10"},{"x":254,"y":1.1,"t":"0.13"},{"x":275,"y":1.1,"t":"0.21"},{"x":304,"y":1.1,"t":"0.35"},{"x":325,"y":1.1,"t":"0.47"},{"x":354,"y":1.1,"t":"0.63"},{"x":375,"y":1.1,"t":"0.83"},{"x":404,"y":1.1,"t":"0.95"},{"x":425,"y":1.1,"t":"1.15"},{"x":454,"y":1.1,"t":"1.48"},{"x":504,"y":1.1,"t":"1.84"},{"x":554,"y":1.1,"t":"2.38"},{"x":604,"y":1.1,"t":"2.80"},{"x":655,"y":1.1,"t":"3.15"},{"x":705,"y":1.1,"t":"3.58"},{"x":755,"y":1.1,"t":"3.88"},{"x":805,"y":1.1,"t":"3.98"},{"x":905,"y":1.1,"t":"4.37"},{"x":1005,"y":1.1,"t":"4.52"},{"x":1104,"y":1.1,"t":"4.47"}
]},"mark":{"type":"text","fontSize":12.5,"fontWeight":"bold","align":"center","baseline":"middle","color":"#111"},"encoding":{"text":{"field":"t"}}},
{"data":{"values":[{"x":202,"y":516.3,"t":"ATLAS"}]},"mark":{"type":"text","fontSize":45,"fontWeight":"bold","fontStyle":"italic","align":"left","baseline":"alphabetic"},"encoding":{"text":{"field":"t"}}},
{"data":{"values":[{"x":317,"y":516.3,"t":"Simulation"},{"x":204,"y":474.3,"t":"√s̅ = 13 TeV, 139 fb"}]},"mark":{"type":"text","fontSize":45,"align":"left","baseline":"alphabetic"},"encoding":{"text":{"field":"t"}}},
{"data":{"values":[{"x":201,"y":433,"t":"SR-LM"}]},"mark":{"type":"text","fontSize":40,"align":"left","baseline":"alphabetic"},"encoding":{"text":{"field":"t"}}},
{"data":{"values":[{"x":473.4,"y":488,"t":"-1"}]},"mark":{"type":"text","fontSize":28,"align":"left","baseline":"alphabetic"},"encoding":{"text":{"field":"t"}}},
{"data":{"values":[{"x":907.6,"y":-38.8,"t":"m"},{"x":951.6,"y":-38.8,"t":"/ m"},{"x":1011.7,"y":-38.8,"t":"[GeV]"}]},"mark":{"type":"text","fontSize":32,"align":"left","baseline":"alphabetic"},"encoding":{"text":{"field":"t"}}},
{"data":{"values":[{"x":925.9,"y":-49.3,"t":"χ"},{"x":982.8,"y":-49.3,"t":"χ"},{"x":928.3,"y":-49.3,"t":"˜"},{"x":985.2,"y":-49.3,"t":"˜"}]},"mark":{"type":"text","fontSize":22,"align":"left","baseline":"alphabetic"},"encoding":{"text":{"field":"t"}}},
{"data":{"values":[{"x":939,"y":-38.8,"t":"±"},{"x":998,"y":-38.8,"t":"0"}]},"mark":{"type":"text","fontSize":19,"align":"left","baseline":"alphabetic"},"encoding":{"text":{"field":"t"}}},
{"data":{"values":[{"x":935,"y":-53.8,"t":"1"},{"x":992.5,"y":-53.8,"t":"2"}]},"mark":{"type":"text","fontSize":13,"align":"left","baseline":"alphabetic"},"encoding":{"text":{"field":"t"}}},
{"data":{"values":[{"x":71.6,"y":467.8,"t":"[GeV]"},{"x":71.6,"y":426.4,"t":"m"},{"x":1232.6,"y":409.6,"t":"Acceptance %"}]},"mark":{"type":"text","fontSize":33,"angle":270,"align":"left","baseline":"alphabetic"},"encoding":{"text":{"field":"t"}}},
{"data":{"values":[{"x":84,"y":442.7,"t":"χ"},{"x":84,"y":445,"t":"˜"}]},"mark":{"type":"text","fontSize":22,"angle":270,"align":"left","baseline":"alphabetic"},"encoding":{"text":{"field":"t"}}},
{"data":{"values":[{"x":86,"y":452,"t":"1"}]},"mark":{"type":"text","fontSize":13,"angle":270,"align":"left","baseline":"alphabetic"},"encoding":{"text":{"field":"t"}}},
{"data":{"values":[{"x":68,"y":455,"t":"0"}]},"mark":{"type":"text","fontSize":18,"angle":270,"align":"left","baseline":"alphabetic"},"encoding":{"text":{"field":"t"}}},
{"data":{"values":[{"x":965.4,"y":628,"x2":917.9,"y2":544.3},{"x":1186,"y":628,"x2":1493.3,"y2":312.3}]},"mark":{"type":"rule","color":"#000","strokeWidth":5},"encoding":{"x2":{"field":"x2"},"y2":{"field":"y2"}}},
{"data":{"values":[{"x":917.9,"y":544.3}]},"mark":{"type":"point","shape":"M0,-1L0.75,1L0,0.6L-0.75,1Z","filled":true,"color":"#000","opacity":1,"size":900,"angle":208},"encoding":{}},
{"data":{"values":[{"x":1493.3,"y":312.3}]},"mark":{"type":"point","shape":"M0,-1L0.75,1L0,0.6L-0.75,1Z","filled":true,"color":"#000","opacity":1,"size":900,"angle":138},"encoding":{}}
]},
{"data":{"values":[{"a":0}]},"mark":{"type":"point","opacity":0},"encoding":{"x":{"field":"a","type":"quantitative","scale":{"domain":[150,1100],"range":[215,1584],"nice":false,"zero":false},"axis":{"zindex":1,"orient":"bottom","offset":-677.3,"values":[200,300,400,500,600,700,800,900,1000,1100],"format":"d","tickSize":-23,"labelFontSize":33,"labelPadding":30}}}},
{"data":{"values":[{"a":0}]},"mark":{"type":"point","opacity":0},"encoding":{"x":{"field":"a","type":"quantitative","scale":{"domain":[150,1100],"range":[215,1584],"nice":false,"zero":false},"axis":{"zindex":1,"orient":"bottom","offset":-677.3,"values":[160,180,220,240,260,280,320,340,360,380,420,440,460,480,520,540,560,580,620,640,660,680,720,740,760,780,820,840,860,880,920,940,960,980,1020,1040,1060,1080],"tickSize":-11,"labels":false,"domain":false}}}},
{"data":{"values":[{"a":0}]},"mark":{"type":"point","opacity":0},"encoding":{"y":{"field":"a","type":"quantitative","scale":{"domain":[0,550],"range":[971.7,120.8],"nice":false,"zero":false},"axis":{"zindex":1,"orient":"left","offset":-215,"values":[0,100,200,300,400,500],"format":"d","tickSize":-44,"labelFontSize":33,"labelPadding":52}}}},
{"data":{"values":[{"a":0}]},"mark":{"type":"point","opacity":0},"encoding":{"y":{"field":"a","type":"quantitative","scale":{"domain":[0,550],"range":[971.7,120.8],"nice":false,"zero":false},"axis":{"zindex":1,"orient":"left","offset":-215,"values":[20,40,60,80,120,140,160,180,220,240,260,280,320,340,360,380,420,440,460,480,520,540],"tickSize":-22,"labels":false,"domain":false}}}},
{"data":{"values":[{"a":0}]},"mark":{"type":"point","opacity":0},"encoding":{"x":{"field":"a","type":"quantitative","scale":{"domain":[150,1028.75],"range":[215,1481],"nice":false,"zero":false},"axis":{"zindex":1,"orient":"top","offset":-120.8,"values":[],"ticks":false,"labels":false}}}},
{"data":{"values":[{"a":0}]},"mark":{"type":"point","opacity":0},"encoding":{"y":{"field":"a","type":"quantitative","scale":{"domain":[0,550],"range":[971.7,120.8],"nice":false,"zero":false},"axis":{"zindex":1,"orient":"right","offset":-1042.5,"values":[],"ticks":false,"labels":false,"domainColor":"#999","domainWidth":1}}}}
]}
